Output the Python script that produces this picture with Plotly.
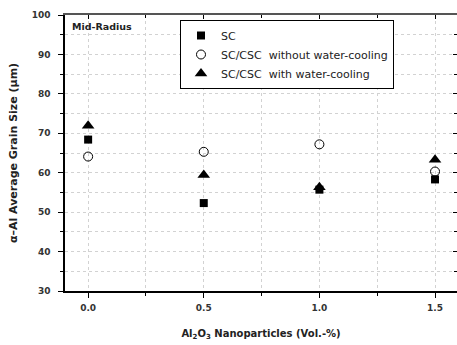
import plotly.graph_objects as go

x_vals = [0.0, 0.5, 1.0, 1.5]
sc = [68.4, 52.3, 55.7, 58.3]
sc_csc_no_cool = [64.1, 65.3, 67.2, 60.3]
sc_csc_cool = [71.9, 59.4, 56.3, 63.3]
names = ["SC", "SC/CSC  without water-cooling", "SC/CSC  with water-cooling"]

W, H = 457, 345
L, R, T, B = 65, 0, 15, 54

FONT = "DejaVu Sans"
GRID = "#d2d2d2"

fig = go.Figure()
fig.add_trace(go.Scatter(x=x_vals, y=sc, mode="markers", name=names[0],
                         marker=dict(symbol="square", size=8, color="black")))
fig.add_trace(go.Scatter(x=x_vals, y=sc_csc_no_cool, mode="markers", name=names[1],
                         marker=dict(symbol="circle-open", size=9, color="black", line=dict(width=1))))
fig.add_trace(go.Scatter(x=x_vals, y=sc_csc_cool, mode="markers", name=names[2],
                         marker=dict(symbol="triangle-up", size=11, color="black")))
# invisible trace for mirrored top/right axes
fig.add_trace(go.Scatter(x=[0], y=[50], xaxis="x2", yaxis="y2", mode="markers",
                         marker=dict(opacity=0), showlegend=False, hoverinfo="skip"))

xr = [-0.1, 1.595]
yr = [30, 100]
tickfont = dict(family=FONT, size=9, color="#333333", weight="bold")
grid = dict(showgrid=True, gridcolor=GRID, griddash="dot", gridwidth=1)

fig.update_layout(
    width=W, height=H, margin=dict(l=L, r=R, t=T, b=B),
    paper_bgcolor="white", plot_bgcolor="white",
    showlegend=True,
    font=dict(family=FONT, color="black"),
    xaxis=dict(range=xr, tickvals=[0, 0.5, 1.0, 1.5], ticktext=["0.0", "0.5", "1.0", "1.5"],
               ticks="outside", ticklen=5, tickcolor="black", showline=True, linecolor="black",
               linewidth=1.5, zeroline=False, tickfont=tickfont, ticklabelstandoff=2,
               minor=dict(tickvals=[0.25, 0.75, 1.25], ticks="outside", ticklen=3, tickcolor="black",
                          showgrid=True, gridcolor=GRID, griddash="dot"),
               title=dict(text="Al<sub>2</sub>O<sub>3</sub> Nanoparticles (Vol.-%)",
                          font=dict(size=10, weight="bold", color="#222222"), standoff=18),
               **grid),
    yaxis=dict(range=yr, dtick=10, tick0=30, ticks="outside", ticklen=5, tickcolor="black",
               showline=True, linecolor="black", linewidth=1.5, zeroline=False, tickfont=tickfont,
               ticklabelstandoff=6,
               minor=dict(dtick=5, ticks="outside", ticklen=3, tickcolor="black",
                          showgrid=True, gridcolor=GRID, griddash="dot"),
               title=dict(text="α–Al Average Grain Size (μm)",
                          font=dict(size=11, weight="bold", color="#222222"), standoff=12),
               **grid),
    xaxis2=dict(range=xr, overlaying="x", side="top", tickvals=[0, 0.5, 1.0, 1.5],
                ticks="inside", ticklen=4, tickcolor="black", showticklabels=False,
                showline=True, linecolor="#555555", linewidth=1.5, showgrid=False, zeroline=False,
                minor=dict(tickvals=[0.25, 0.75, 1.25], ticks="inside", ticklen=3, tickcolor="black")),
    yaxis2=dict(range=yr, overlaying="y", side="right", dtick=10, tick0=30,
                ticks="inside", ticklen=4, tickcolor="black", showticklabels=False,
                showline=False, showgrid=False, zeroline=False,
                minor=dict(dtick=5, ticks="inside", ticklen=3, tickcolor="black")),
    legend=dict(x=(180 - L) / (W - L - R), y=(H - B - 20) / (H - T - B),
                xanchor="left", yanchor="top", bordercolor="black", borderwidth=1,
                bgcolor="white", font=dict(size=11, color="#222222"),
                tracegroupgap=0, itemwidth=30),
    annotations=[dict(text="Mid-Radius", x=0.012, y=0.985, xref="paper", yref="paper",
                      xanchor="left", yanchor="top", showarrow=False,
                      font=dict(size=9.5, weight="bold", color="#222222"))],
)

fig.write_html("out.html")
